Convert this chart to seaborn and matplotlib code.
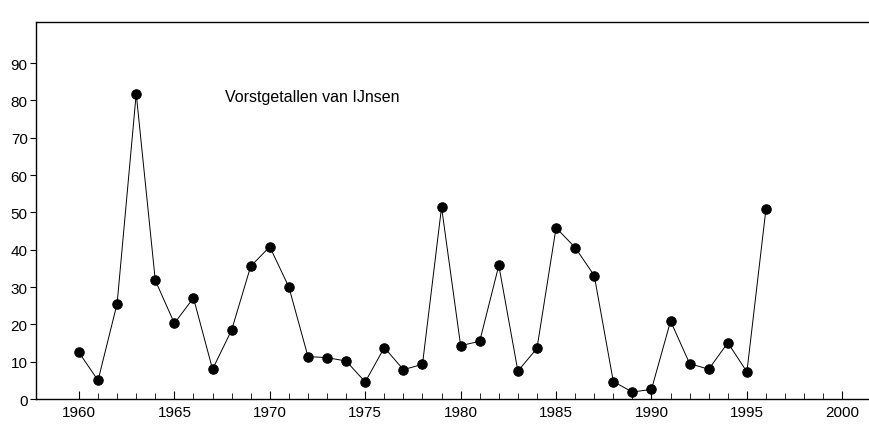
import matplotlib
matplotlib.use("Agg")
import matplotlib.pyplot as plt
from matplotlib.ticker import FixedLocator
import seaborn as sns
import pandas as pd

# winter frost numbers (IJnsen)
years = list(range(1960, 1997))
vorstgetal = [12.5, 5.0, 25.6, 81.8, 31.8, 20.3, 27.1, 8.0, 18.5, 35.6,
              40.8, 30.0, 11.4, 11.1, 10.2, 4.6, 13.8, 7.9, 9.3, 51.4,
              14.3, 15.5, 35.8, 7.5, 13.6, 45.9, 40.6, 33.1, 4.7, 1.9,
              2.6, 20.9, 9.5, 8.0, 15.1, 7.3, 51.0]
y_ticks = [0, 10, 20, 30, 40, 50, 60, 70, 80, 90]
x_ticks = [1960, 1965, 1970, 1975, 1980, 1985, 1990, 1995, 2000]
x_minor = list(range(1960, 2001))
title_text = "Vorstgetallen van IJnsen"

df = pd.DataFrame({"jaar": years, "vorstgetal": vorstgetal})

sns.set_style("white")
plt.rcParams["font.family"] = ["Liberation Sans", "DejaVu Sans"]
plt.rcParams["text.color"] = "black"

fig = plt.figure(figsize=(8.7, 4.27), dpi=100)
ax = fig.add_axes([0.0414, 0.063, 0.9586, 0.883])

sns.lineplot(data=df, x="jaar", y="vorstgetal", ax=ax, color="black",
             linewidth=0.7, marker="o", markersize=6.8,
             markerfacecolor="black", markeredgecolor="black")

ax.set_xlim(1957.75, 2001.45)
ax.set_ylim(0, 101)
ax.set_xticks(x_ticks)
ax.set_yticks(y_ticks)
ax.xaxis.set_minor_locator(FixedLocator(x_minor))
ax.tick_params(axis="x", which="major", bottom=True, direction="in",
               length=6, width=0.8, labelsize=11, pad=4,
               color="black", labelcolor="black")
ax.tick_params(axis="x", which="minor", bottom=True, direction="in",
               length=4, width=0.6, color="black")
ax.tick_params(axis="y", left=True, direction="out", length=4, width=0.8,
               labelsize=11, pad=2, color="black", labelcolor="black")
ax.set_xlabel("")
ax.set_ylabel("")

for side in ["left", "top", "bottom"]:
    ax.spines[side].set_color("black")
    ax.spines[side].set_linewidth(1.0)
ax.spines["right"].set_visible(False)

ax.text(1967.66, 81, title_text, fontsize=11.5, va="center", ha="left",
        color="black")

fig.savefig("out.png", dpi=100)
